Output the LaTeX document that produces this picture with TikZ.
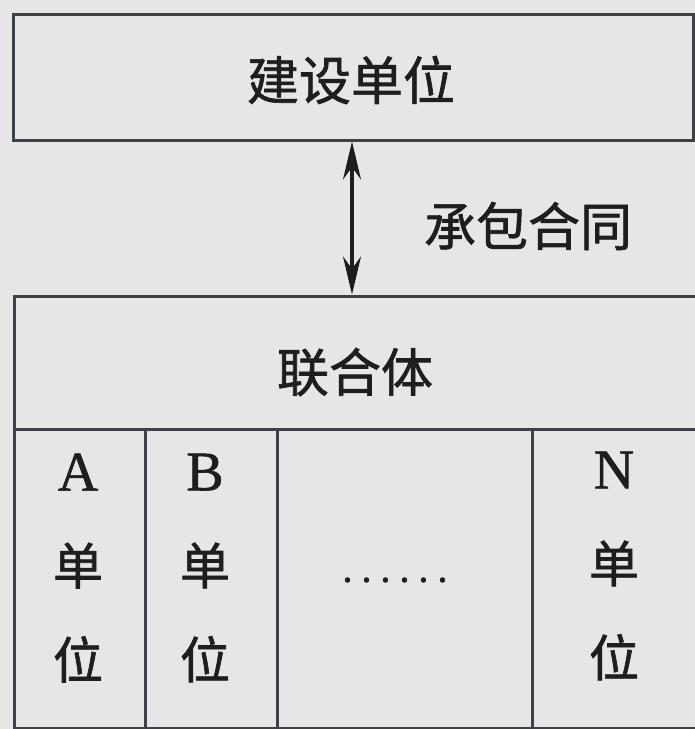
\documentclass[tikz,border=0pt]{standalone}
\usepackage{fontspec}
\setmainfont{Liberation Serif}[FakeBold=1]
\newfontfamily\cjk[FakeBold=1.2]{Noto Sans CJK SC}
\usetikzlibrary{arrows.meta}
\definecolor{bgc}{HTML}{E6E6E6}
\definecolor{linec}{HTML}{3E4148}
\definecolor{txtc}{HTML}{1E1E1E}
\tikzset{
  box/.style={draw=linec, line width=3pt, rectangle, inner sep=0pt},
  cjktext/.style={text=txtc, font=\cjk\fontsize{52}{52}\selectfont, inner sep=0pt},
  coltext/.style={text=txtc, align=center, inner sep=0pt, font=\fontsize{56}{94}\selectfont},
  link/.style={draw=txtc, line width=3.2pt, {Stealth[length=38pt,width=18pt]}-{Stealth[length=38pt,width=18pt]}}
}
\newcommand{\cjkcol}[1]{{\cjk\fontsize{50}{94}\selectfont #1}}
\begin{document}
\begin{tikzpicture}[x=1pt,y=-1pt]
\fill[bgc] (0,0) rectangle (695,729);
\useasboundingbox (0,0) rectangle (695,729);
% top box
\node[box, minimum width=680pt, minimum height=126pt] (top) at (353,77) {};
\node[cjktext] (toptxt) at (351,80) {建设单位};
% joint venture header
\node[box, minimum width=684pt, minimum height=133pt] (lht) at (356,362.5) {};
\node[cjktext] (lhttxt) at (355,372) {联合体};
% columns
\node[box, minimum width=131pt, minimum height=299pt] (colA) at (79.5,578.5) {};
\node[box, minimum width=132pt, minimum height=299pt] (colB) at (211,578.5) {};
\node[box, minimum width=255pt, minimum height=299pt] (colD) at (404.5,578.5) {};
\node[box, minimum width=166pt, minimum height=299pt] (colN) at (615,578.5) {};
\node[coltext] (tA) at (78,568) {A\\\cjkcol{单}\\\cjkcol{位}};
\node[coltext] (tB) at (205,568) {B\\\cjkcol{单}\\\cjkcol{位}};
\node[coltext] (tN) at (614,566) {N\\\cjkcol{单}\\\cjkcol{位}};
\node[text=txtc, inner sep=0pt, font=\fontsize{42}{42}\selectfont] (dots) at (395,580) {.\hspace{8.5pt}.\hspace{8.5pt}.\hspace{8.5pt}.\hspace{8.5pt}.\hspace{8.5pt}.};
% arrow
\coordinate (ax) at (352,0);
\draw[link] (top.south -| ax) -- (lht.north -| ax);
\node[cjktext] (contract) at (528,226) {承包合同};
\end{tikzpicture}
\end{document}
